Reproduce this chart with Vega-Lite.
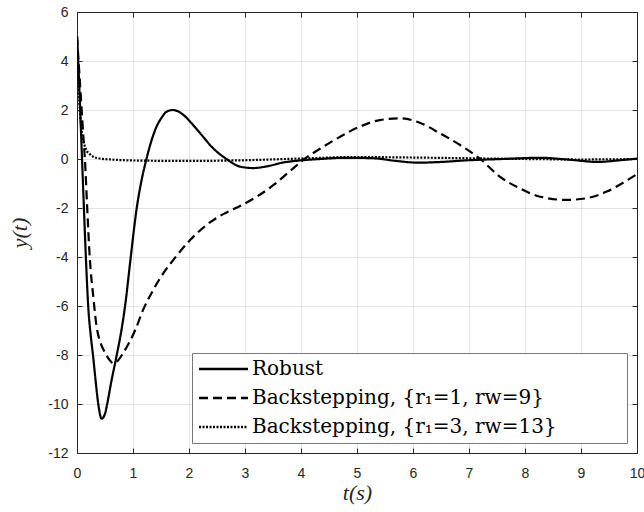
{
  "$schema": "https://vega.github.io/schema/vega-lite/v6.json",
  "width": 560,
  "height": 441,
  "autosize": {"type": "none"},
  "padding": {"left": 77, "top": 12, "right": 7, "bottom": 59},
  "background": "white",
  "config": {
    "view": {"stroke": "#262626", "strokeWidth": 1},
    "axis": {
      "labelFont": "Liberation Sans",
      "labelFontSize": 14,
      "labelColor": "#262626",
      "titleFont": "Liberation Serif",
      "titleFontStyle": "italic",
      "titleFontWeight": "normal",
      "titleFontSize": 22,
      "titleColor": "#262626",
      "domainColor": "#262626",
      "tickColor": "#262626",
      "gridColor": "#e3e3e3",
      "gridWidth": 1
    }
  },
  "data": {
    "values": [
      {"t": 0, "y": 5, "series": "Robust"},
      {"t": 0.04, "y": 3.0, "series": "Robust"},
      {"t": 0.08, "y": 0.6, "series": "Robust"},
      {"t": 0.12, "y": -1.8, "series": "Robust"},
      {"t": 0.16, "y": -4.1, "series": "Robust"},
      {"t": 0.2, "y": -6.0, "series": "Robust"},
      {"t": 0.25, "y": -7.3, "series": "Robust"},
      {"t": 0.29, "y": -8.1, "series": "Robust"},
      {"t": 0.33, "y": -9.0, "series": "Robust"},
      {"t": 0.38, "y": -10.0, "series": "Robust"},
      {"t": 0.44, "y": -10.6, "series": "Robust"},
      {"t": 0.5, "y": -10.4, "series": "Robust"},
      {"t": 0.53, "y": -10.1, "series": "Robust"},
      {"t": 0.62, "y": -9.0, "series": "Robust"},
      {"t": 0.71, "y": -8.0, "series": "Robust"},
      {"t": 0.8, "y": -6.9, "series": "Robust"},
      {"t": 0.87, "y": -5.8, "series": "Robust"},
      {"t": 0.95, "y": -4.2, "series": "Robust"},
      {"t": 1.07, "y": -1.95, "series": "Robust"},
      {"t": 1.15, "y": -0.9, "series": "Robust"},
      {"t": 1.24, "y": 0, "series": "Robust"},
      {"t": 1.33, "y": 0.75, "series": "Robust"},
      {"t": 1.42, "y": 1.32, "series": "Robust"},
      {"t": 1.5, "y": 1.65, "series": "Robust"},
      {"t": 1.6, "y": 1.93, "series": "Robust"},
      {"t": 1.71, "y": 2.0, "series": "Robust"},
      {"t": 1.8, "y": 1.95, "series": "Robust"},
      {"t": 1.9, "y": 1.8, "series": "Robust"},
      {"t": 2.05, "y": 1.45, "series": "Robust"},
      {"t": 2.2, "y": 1.05, "series": "Robust"},
      {"t": 2.43, "y": 0.44, "series": "Robust"},
      {"t": 2.67, "y": 0, "series": "Robust"},
      {"t": 2.91, "y": -0.31, "series": "Robust"},
      {"t": 3.15, "y": -0.37, "series": "Robust"},
      {"t": 3.39, "y": -0.3, "series": "Robust"},
      {"t": 3.69, "y": -0.14, "series": "Robust"},
      {"t": 3.98, "y": -0.06, "series": "Robust"},
      {"t": 4.34, "y": 0, "series": "Robust"},
      {"t": 4.8, "y": 0.05, "series": "Robust"},
      {"t": 5.3, "y": 0.03, "series": "Robust"},
      {"t": 5.7, "y": -0.08, "series": "Robust"},
      {"t": 6.1, "y": -0.15, "series": "Robust"},
      {"t": 6.5, "y": -0.12, "series": "Robust"},
      {"t": 7.0, "y": -0.05, "series": "Robust"},
      {"t": 7.6, "y": 0.0, "series": "Robust"},
      {"t": 8.27, "y": 0.05, "series": "Robust"},
      {"t": 8.8, "y": -0.03, "series": "Robust"},
      {"t": 9.3, "y": -0.12, "series": "Robust"},
      {"t": 9.7, "y": -0.05, "series": "Robust"},
      {"t": 10, "y": 0.02, "series": "Robust"},

      {"t": 0, "y": 5, "series": "B1"},
      {"t": 0.05, "y": 3.2, "series": "B1"},
      {"t": 0.1, "y": 1.4, "series": "B1"},
      {"t": 0.15, "y": -0.4, "series": "B1"},
      {"t": 0.18, "y": -1.9, "series": "B1"},
      {"t": 0.23, "y": -4.1, "series": "B1"},
      {"t": 0.29, "y": -5.6, "series": "B1"},
      {"t": 0.35, "y": -6.84, "series": "B1"},
      {"t": 0.42, "y": -7.5, "series": "B1"},
      {"t": 0.5, "y": -7.9, "series": "B1"},
      {"t": 0.58, "y": -8.2, "series": "B1"},
      {"t": 0.65, "y": -8.34, "series": "B1"},
      {"t": 0.74, "y": -8.2, "series": "B1"},
      {"t": 0.83, "y": -7.9, "series": "B1"},
      {"t": 0.93, "y": -7.5, "series": "B1"},
      {"t": 1.04, "y": -6.98, "series": "B1"},
      {"t": 1.18, "y": -6.16, "series": "B1"},
      {"t": 1.36, "y": -5.35, "series": "B1"},
      {"t": 1.54, "y": -4.67, "series": "B1"},
      {"t": 1.72, "y": -4.12, "series": "B1"},
      {"t": 2.02, "y": -3.31, "series": "B1"},
      {"t": 2.32, "y": -2.68, "series": "B1"},
      {"t": 2.61, "y": -2.25, "series": "B1"},
      {"t": 2.91, "y": -1.92, "series": "B1"},
      {"t": 3.21, "y": -1.54, "series": "B1"},
      {"t": 3.51, "y": -1.06, "series": "B1"},
      {"t": 3.8, "y": -0.5, "series": "B1"},
      {"t": 4.05, "y": -0.02, "series": "B1"},
      {"t": 4.34, "y": 0.42, "series": "B1"},
      {"t": 4.7, "y": 0.91, "series": "B1"},
      {"t": 5.05, "y": 1.32, "series": "B1"},
      {"t": 5.41, "y": 1.59, "series": "B1"},
      {"t": 5.77, "y": 1.66, "series": "B1"},
      {"t": 6.12, "y": 1.48, "series": "B1"},
      {"t": 6.48, "y": 1.05, "series": "B1"},
      {"t": 6.84, "y": 0.57, "series": "B1"},
      {"t": 7.2, "y": 0, "series": "B1"},
      {"t": 7.55, "y": -0.72, "series": "B1"},
      {"t": 7.91, "y": -1.2, "series": "B1"},
      {"t": 8.27, "y": -1.54, "series": "B1"},
      {"t": 8.74, "y": -1.67, "series": "B1"},
      {"t": 9.1, "y": -1.6, "series": "B1"},
      {"t": 9.46, "y": -1.33, "series": "B1"},
      {"t": 9.88, "y": -0.79, "series": "B1"},
      {"t": 10, "y": -0.62, "series": "B1"},

      {"t": 0, "y": 5, "series": "B2"},
      {"t": 0.02, "y": 3.6, "series": "B2"},
      {"t": 0.05, "y": 2.0, "series": "B2"},
      {"t": 0.08, "y": 1.2, "series": "B2"},
      {"t": 0.11, "y": 0.78, "series": "B2"},
      {"t": 0.16, "y": 0.4, "series": "B2"},
      {"t": 0.23, "y": 0.2, "series": "B2"},
      {"t": 0.3, "y": 0.08, "series": "B2"},
      {"t": 0.41, "y": 0.02, "series": "B2"},
      {"t": 0.6, "y": -0.02, "series": "B2"},
      {"t": 1, "y": -0.06, "series": "B2"},
      {"t": 2, "y": -0.08, "series": "B2"},
      {"t": 3, "y": -0.05, "series": "B2"},
      {"t": 4, "y": 0.02, "series": "B2"},
      {"t": 5, "y": 0.08, "series": "B2"},
      {"t": 6, "y": 0.06, "series": "B2"},
      {"t": 7, "y": 0.03, "series": "B2"},
      {"t": 8, "y": 0.0, "series": "B2"},
      {"t": 9, "y": -0.02, "series": "B2"},
      {"t": 10, "y": 0.0, "series": "B2"}
    ]
  },
  "layer": [
    {
      "mark": {"type": "line", "interpolate": "monotone", "strokeWidth": 2.2, "color": "black", "clip": true},
      "encoding": {
        "x": {
          "field": "t", "type": "quantitative",
          "scale": {"domain": [0, 10], "nice": false, "zero": false},
          "axis": {"title": "t(s)", "values": [0,1,2,3,4,5,6,7,8,9,10], "grid": true, "tickSize": -5, "labelPadding": 18, "titlePadding": 2, "labelFlush": false, "labelExpr": "'' + datum.value"}
        },
        "y": {
          "field": "y", "type": "quantitative",
          "scale": {"domain": [-12, 6], "nice": false, "zero": false},
          "axis": {"title": "y(t)", "values": [-12,-10,-8,-6,-4,-2,0,2,4,6], "grid": true, "tickSize": -5, "labelPadding": 14, "titlePadding": 16, "labelFlush": false, "labelExpr": "'' + datum.value"}
        },
        "strokeDash": {
          "field": "series", "type": "nominal",
          "scale": {"domain": ["Robust", "B1", "B2"], "range": [[1, 0], [9, 5], [2, 1.5]]},
          "legend": {
            "orient": "none", "legendX": 115, "legendY": 341, "title": null,
            "symbolType": "M-1.8,0H8", "symbolSize": 100, "symbolStrokeWidth": 2.5, "symbolStrokeColor": "black",
            "labelFont": "DejaVu Serif", "labelFontSize": 20, "labelColor": "black", "labelLimit": 600, "labelOffset": 34,
            "fillColor": "white", "strokeColor": "#7a7a7a", "padding": 6, "rowPadding": 9,
            "labelExpr": "datum.label == 'Robust' ? 'Robust' : (datum.label == 'B1' ? 'Backstepping, {r₁=1, rw=9}' : 'Backstepping, {r₁=3, rw=13}\u00a0\u00a0\u00a0\u00a0\u00a0\u00a0\u00a0\u00a0\u00a0\u00a0\u200b')"
          }
        }
      }
    },
    {
      "mark": {"type": "point", "opacity": 0},
      "encoding": {
        "x": {"field": "t", "type": "quantitative", "axis": {"orient": "top", "title": null, "labels": false, "grid": false, "tickSize": -5, "values": [0,1,2,3,4,5,6,7,8,9,10]}},
        "y": {"field": "y", "type": "quantitative", "axis": {"orient": "right", "title": null, "labels": false, "grid": false, "tickSize": -5, "values": [-12,-10,-8,-6,-4,-2,0,2,4,6]}}
      }
    }
  ],
  "resolve": {"axis": {"x": "independent", "y": "independent"}}
}
